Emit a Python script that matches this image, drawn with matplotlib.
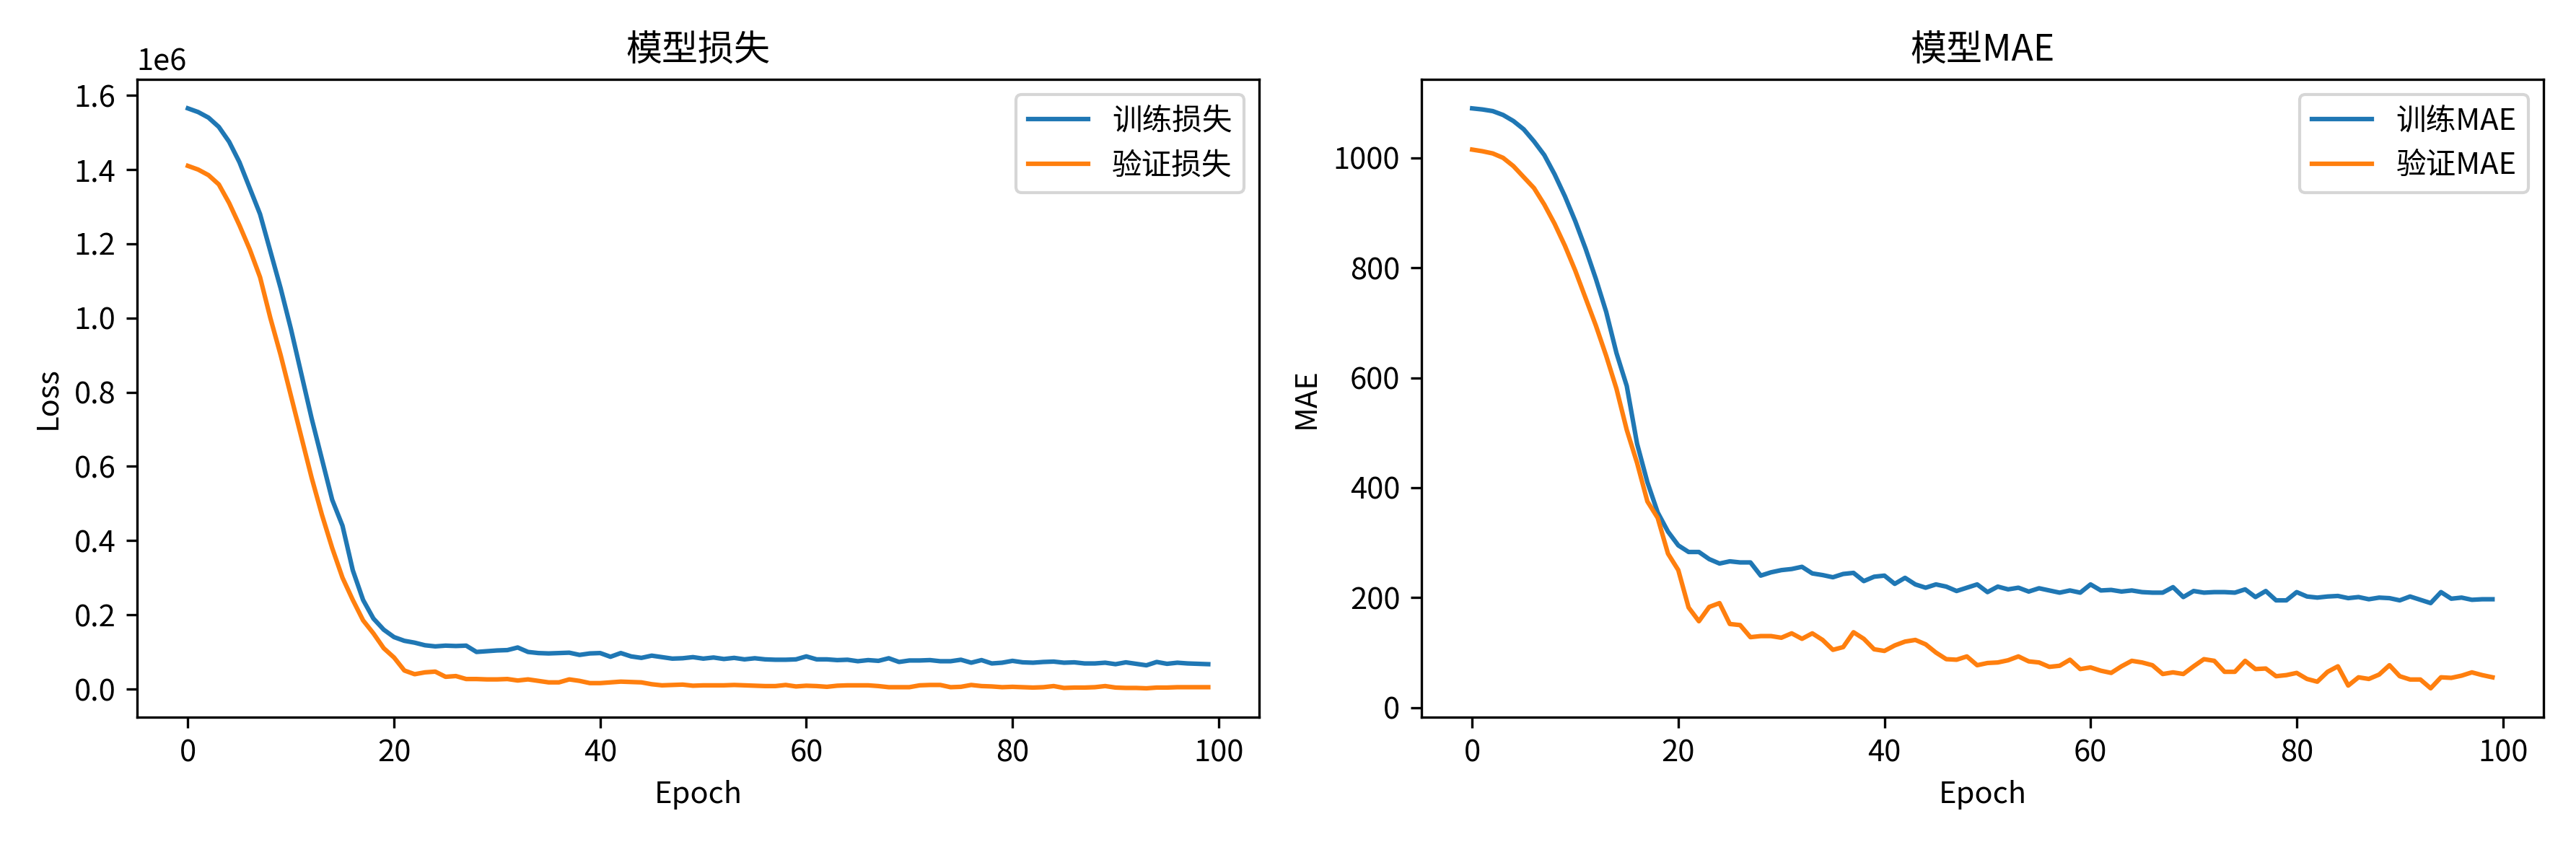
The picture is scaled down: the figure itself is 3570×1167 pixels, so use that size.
import matplotlib
matplotlib.use("Agg")
import matplotlib.pyplot as plt
import numpy as np

plt.rcParams['font.family'] = ['Noto Sans CJK SC', 'DejaVu Sans']
plt.rcParams['axes.unicode_minus'] = False

train_loss = [1.565, 1.555, 1.54, 1.515, 1.475, 1.42, 1.35, 1.28, 1.18, 1.08,
              0.97, 0.85, 0.73, 0.62, 0.51, 0.44, 0.32, 0.24, 0.19, 0.16,
              0.14, 0.13, 0.125, 0.118, 0.115, 0.117, 0.116, 0.117, 0.10, 0.102,
              0.104, 0.105, 0.112, 0.10, 0.097, 0.096, 0.097, 0.098, 0.092, 0.096,
              0.097, 0.087, 0.097, 0.088, 0.084, 0.09, 0.086, 0.082, 0.083, 0.086,
              0.082, 0.085, 0.081, 0.084, 0.08, 0.083, 0.08, 0.079, 0.079, 0.08,
              0.088, 0.08, 0.08, 0.078, 0.079, 0.075, 0.078, 0.076, 0.083, 0.073,
              0.077, 0.077, 0.078, 0.075, 0.075, 0.079, 0.071, 0.078, 0.069, 0.071,
              0.076, 0.072, 0.071, 0.073, 0.074, 0.071, 0.072, 0.069, 0.069, 0.071,
              0.067, 0.072, 0.068, 0.064, 0.073, 0.068, 0.071, 0.069, 0.068, 0.067]
val_loss = [1.41, 1.40, 1.385, 1.36, 1.31, 1.25, 1.185, 1.11, 1.0, 0.9,
            0.79, 0.68, 0.57, 0.47, 0.38, 0.30, 0.24, 0.185, 0.15, 0.11,
            0.085, 0.05, 0.04, 0.045, 0.047, 0.033, 0.035, 0.027, 0.027, 0.026,
            0.026, 0.027, 0.023, 0.026, 0.022, 0.018, 0.018, 0.026, 0.022, 0.016,
            0.016, 0.018, 0.02, 0.019, 0.018, 0.013, 0.01, 0.011, 0.012, 0.009,
            0.01, 0.01, 0.01, 0.011, 0.01, 0.009, 0.008, 0.008, 0.011, 0.007,
            0.009, 0.008, 0.006, 0.009, 0.01, 0.01, 0.01, 0.008, 0.005, 0.005,
            0.005, 0.01, 0.011, 0.011, 0.005, 0.006, 0.011, 0.008, 0.007, 0.005,
            0.006, 0.005, 0.004, 0.005, 0.008, 0.003, 0.004, 0.004, 0.005, 0.008,
            0.004, 0.003, 0.003, 0.002, 0.004, 0.004, 0.005, 0.005, 0.005, 0.005]
train_mae = [1090, 1088, 1085, 1078, 1067, 1052, 1030, 1005, 970, 930,
             885, 835, 780, 720, 645, 585, 480, 410, 355, 320,
             295, 283, 283, 270, 262, 266, 264, 264, 240, 246,
             250, 252, 256, 244, 241, 237, 243, 245, 230, 238,
             240, 225, 236, 224, 218, 224, 220, 212, 218, 224,
             210, 220, 215, 218, 211, 217, 213, 209, 213, 209,
             224, 213, 214, 211, 213, 210, 209, 209, 219, 201,
             212, 209, 210, 210, 209, 215, 201, 212, 195, 195,
             210, 202, 200, 202, 203, 199, 201, 197, 200, 199,
             195, 202, 196, 190, 210, 198, 200, 196, 197, 197]
val_mae = [1015, 1012, 1008, 1000, 985, 965, 945, 915, 880, 840,
           795, 745, 695, 640, 580, 505, 445, 375, 345, 280,
           250, 182, 157, 183, 190, 152, 150, 128, 130, 130,
           127, 135, 125, 135, 123, 105, 110, 137, 125, 106,
           103, 113, 120, 123, 115, 100, 88, 87, 93, 77,
           81, 82, 86, 93, 84, 82, 74, 76, 87, 70,
           73, 67, 63, 75, 85, 82, 77, 61, 64, 61,
           75, 88, 85, 65, 65, 85, 70, 71, 57, 59,
           63, 52, 47, 65, 75, 40, 55, 52, 60, 77,
           57, 51, 51, 35, 55, 54, 58, 64, 59, 55]

epochs = np.arange(len(train_loss))

fig, (ax1, ax2) = plt.subplots(1, 2, figsize=(11.9, 3.89), dpi=300)
ax1.plot(epochs, np.array(train_loss) * 1e6, label='训练损失')
ax1.plot(epochs, np.array(val_loss) * 1e6, label='验证损失')
ax1.set_title('模型损失')
ax1.set_xlabel('Epoch')
ax1.set_ylabel('Loss')
ax1.legend(loc='upper right')

ax2.plot(epochs, train_mae, label='训练MAE')
ax2.plot(epochs, val_mae, label='验证MAE')
ax2.set_title('模型MAE')
ax2.set_xlabel('Epoch')
ax2.set_ylabel('MAE')
ax2.legend(loc='upper right')

fig.tight_layout()
fig.savefig('out.png', dpi=300)
